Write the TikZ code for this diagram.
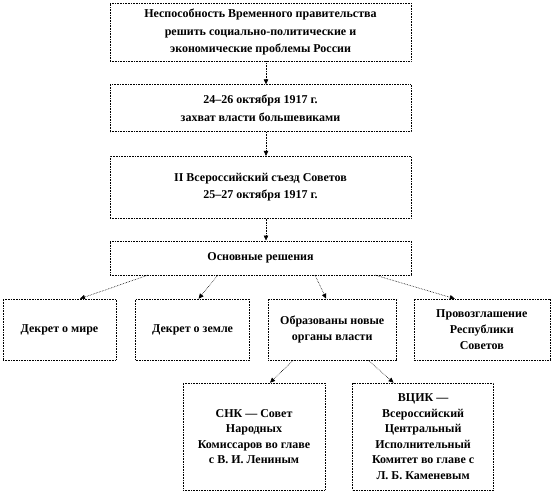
\documentclass[tikz,border=0pt]{standalone}
\usepackage{fontspec}
\setmainfont{Liberation Serif}
\usetikzlibrary{arrows.meta, positioning}

\begin{document}
\begin{tikzpicture}[
      x=1pt, y=-1pt,
      node distance=22pt and 18pt,
      box/.style={rectangle, draw, densely dotted, line width=0.6pt, align=center, inner sep=2pt, font=\bfseries\fontsize{12}{17.5}\selectfont},
      chainbox/.style={box, minimum width=301pt},
      sub/.style={box, minimum height=61pt, font=\bfseries\fontsize{12}{16}\selectfont},
      organ/.style={box, minimum width=142pt, minimum height=107pt, font=\bfseries\fontsize{12}{15.5}\selectfont},
      arrow/.style={-{Triangle[length=5pt,width=4.5pt]}, densely dotted, line width=0.6pt}
    ]
    \useasboundingbox (0,0) rectangle (551,493);

    % main chain
    \node[chainbox, minimum height=58pt] (cause) at (260.5,32) {Неспособность Временного правительства\\ решить социально-политические  и\\ экономические проблемы России};
    \node[chainbox, minimum height=47pt, below=23pt of cause] (coup) {24--26  октября 1917  г.\\ захват  власти  большевиками};
    \node[chainbox, minimum height=62pt, below=24pt of coup] (congress) {II Всероссийский съезд Советов\\ 25--27  октября 1917  г.};
    \node[chainbox, minimum height=34pt, below=22pt of congress] (decisions) {Основные решения};

    % decisions
    \node[sub, minimum width=113pt] (peace) at (59.5,329.5) {Декрет о мире};
    \node[sub, minimum width=114pt, right=19pt of peace] (land) {Декрет о земле};
    \node[sub, minimum width=128pt, right=18pt of land] (organs) {Образованы новые\\ органы власти};
    \node[sub, minimum width=136pt, right=17pt of organs] (republic) {Провозглашение\\ Республики\\ Советов};

    % new organs of power
    \node[organ] (snk) at (254,436.5) {СНК  ---  Совет\\ Народных\\ Комиссаров во главе\\ с В.  И.  Лениным};
    \node[organ, minimum width=141pt, right=27pt of snk] (vcik) {ВЦИК  ---\\ Всероссийский\\ Центральный\\ Исполнительный\\ Комитет во главе  с\\ Л. Б. Каменевым};

    \draw[arrow] ([xshift=5.5pt]cause.south) -- ([xshift=5.5pt]coup.north);
    \draw[arrow] ([xshift=5.5pt]coup.south) -- ([xshift=5.5pt]congress.north);
    \draw[arrow] ([xshift=5.5pt]congress.south) -- ([xshift=5.5pt]decisions.north);

    \draw[arrow] ([xshift=-112.5pt]decisions.south) -- ([xshift=20.5pt]peace.north);
    \draw[arrow] ([xshift=-42.5pt]decisions.south) -- ([xshift=6pt]land.north);
    \draw[arrow] ([xshift=54.5pt]decisions.south) -- ([xshift=-6pt]organs.north);
    \draw[arrow] ([xshift=114.5pt]decisions.south) -- ([xshift=-27pt]republic.north);

    \draw[arrow] ([xshift=-39pt]organs.south) -- ([xshift=16pt]snk.north);
    \draw[arrow] ([xshift=36pt]organs.south) -- ([xshift=-29.5pt]vcik.north);
  \end{tikzpicture}
\end{document}
